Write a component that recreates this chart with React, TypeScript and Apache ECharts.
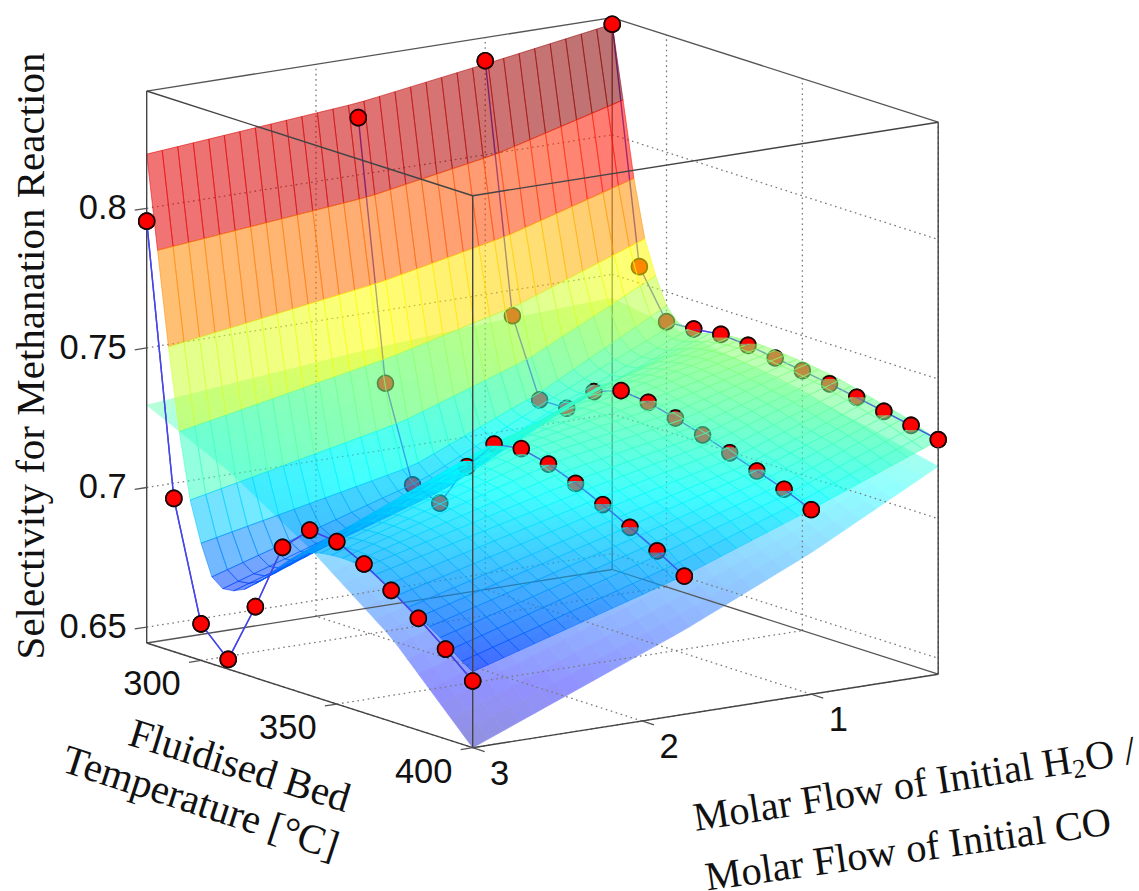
import React, { useEffect, useRef } from "react";
import * as echarts from "echarts";

// ---- axis ticks ----
const tempTicks = [300, 350, 400];
const ratioTicks = [3, 2, 1];
const selectivityTicks = [0.65, 0.7, 0.75, 0.8];
const selectivityLabels = ["0.65", "0.7", "0.75", "0.8"];
const tempMin = 280;
const tempMax = 400;
const ratioMin = 0.25;
const ratioMax = 3;
const zMin = 0.6443;
const zMax = 0.842;

// ---- measured points: one curve per molar-flow ratio ----
const pointTemps = [280, 290, 300, 310, 320, 330, 340, 350, 360, 370, 380, 390, 400];
const curveRatios = [3, 1.75, 1, 0.25];
const curveR3 = [0.7954, 0.6992, 0.6574, 0.6478, 0.6698, 0.6942, 0.7035, 0.7025, 0.6976, 0.6913, 0.6844, 0.6765, 0.6682];
const curveR175 = [0.8205, 0.7285, 0.6952, 0.6918, 0.708, 0.7192, 0.7207, 0.7183, 0.7145, 0.71, 0.705, 0.6997, 0.6938];
const curveR1 = [0.8337, 0.7455, 0.7185, 0.7186, 0.7277, 0.7312, 0.7301, 0.7276, 0.7247, 0.7214, 0.718, 0.7146, 0.7104];
const curveR025 = [0.8396, 0.7559, 0.7393, 0.7398, 0.741, 0.7402, 0.7388, 0.7374, 0.7358, 0.7341, 0.7322, 0.7303, 0.7283];
// share of each marker that stands clear of the fitted surface
const clearR3 = [1, 1, 1, 1, 1, 1, 1, 1, 1, 1, 1, 1, 1];
const clearR175 = [1, 0, 0, 0, 0.15, 0.6, 0.85, 0.55, 0.35, 0.45, 0.5, 0.6, 0.85];
const clearR1 = [1, 0, 0, 0, 0.05, 1, 0.4, 0.1, 0, 0.15, 0.4, 0.6, 0.9];
const clearR025 = [1, 0, 0, 0.5, 0.7, 0.4, 0, 0, 0.2, 0.5, 0.75, 0.8, 0.95];

// ---- fitted surface: rows every 4 degC, read along four ratios ----
const surfaceTemps = [280, 284, 288, 292, 296, 300, 304, 308, 312, 316, 320, 324, 328, 332, 336, 340, 344, 348, 352, 356, 360, 364, 368, 372, 376, 380, 384, 388, 392, 396, 400];
const surfaceRatios = [3, 1.75, 1, 0.25];
const surfaceR3 = [0.8194, 0.7862, 0.7529, 0.7238, 0.7005, 0.6863, 0.6755, 0.6725, 0.673, 0.6748, 0.678, 0.6815, 0.686, 0.69, 0.693, 0.6955, 0.6965, 0.697, 0.6972, 0.697, 0.6964, 0.695, 0.6925, 0.69, 0.687, 0.6848, 0.6826, 0.68, 0.677, 0.674, 0.6715];
const surfaceR175 = [0.8258, 0.7935, 0.764, 0.7385, 0.7165, 0.702, 0.6985, 0.697, 0.6975, 0.703, 0.7095, 0.714, 0.718, 0.7205, 0.7215, 0.722, 0.7218, 0.7208, 0.7195, 0.7175, 0.7155, 0.7135, 0.7115, 0.7095, 0.7075, 0.7055, 0.7035, 0.7015, 0.6995, 0.6965, 0.694];
const surfaceR1 = [0.8325, 0.8015, 0.7735, 0.75, 0.732, 0.721, 0.72, 0.7195, 0.7205, 0.7245, 0.7285, 0.73, 0.7315, 0.732, 0.7318, 0.7308, 0.7298, 0.7285, 0.7275, 0.726, 0.7248, 0.7235, 0.722, 0.7205, 0.719, 0.7182, 0.7168, 0.7152, 0.7138, 0.7122, 0.7105];
const surfaceR025 = [0.8396, 0.8137, 0.7869, 0.7665, 0.7545, 0.745, 0.7405, 0.739, 0.739, 0.74, 0.7408, 0.7415, 0.7418, 0.742, 0.7418, 0.7415, 0.7412, 0.7408, 0.7405, 0.7398, 0.7392, 0.7385, 0.7375, 0.7365, 0.7355, 0.7345, 0.7335, 0.7325, 0.731, 0.7295, 0.728];

// ---- second, smooth surface ----
const sheetTemps = [280, 310, 340, 370, 400];
const sheetR3 = [0.7295, 0.7155, 0.697, 0.6745, 0.6443];
const sheetR175 = [0.7365, 0.7285, 0.7165, 0.6975, 0.6745];
const sheetR1 = [0.7395, 0.7335, 0.7245, 0.711, 0.695];
const sheetR025 = [0.7415, 0.7365, 0.7315, 0.7255, 0.7187];

const surfaceColumns = [surfaceR3, surfaceR175, surfaceR1, surfaceR025];
const sheetColumns = [sheetR3, sheetR175, sheetR1, sheetR025];
const curves = [curveR3, curveR175, curveR1, curveR025];
const clears = [clearR3, clearR175, clearR1, clearR025];

// orthographic view of the box, in the hidden screen-like axes
function project(T: number, R: number, z: number): number[] {
  const u = (T - tempMin) / (tempMax - tempMin);
  const v = (ratioMax - R) / (ratioMax - ratioMin);
  return [146.7 + 326 * u + 465.5 * v, 643 + 104.7 * u - 73.5 * v - 2792 * (z - zMin)];
}

const clamp01 = (x: number) => Math.max(0, Math.min(1, x));
function jet(z: number): number[] {
  const t = clamp01((z - 0.635) / (0.84 - 0.635));
  return [
    Math.round(255 * clamp01(1.5 - Math.abs(4 * t - 3))),
    Math.round(255 * clamp01(1.5 - Math.abs(4 * t - 2))),
    Math.round(255 * clamp01(1.5 - Math.abs(4 * t - 1))),
  ];
}
function locate(knots: number[], x: number): [number, number] {
  const descending = knots[0] > knots[knots.length - 1];
  for (let i = 0; i < knots.length - 1; i++) {
    const a = knots[i];
    const b = knots[i + 1];
    if (descending ? x >= b : x <= b) return [i, (x - a) / (b - a)];
  }
  return [knots.length - 2, 1];
}
function tableValue(rows: number[], ratios: number[], cols: number[][], T: number, R: number): number {
  const [ri, rf] = locate(rows, T);
  const [ci, cf] = locate(ratios, R);
  const a = cols[ci][ri] * (1 - rf) + cols[ci][ri + 1] * rf;
  const b = cols[ci + 1][ri] * (1 - rf) + cols[ci + 1][ri + 1] * rf;
  return a * (1 - cf) + b * cf;
}
const surfaceZ = (T: number, R: number) => tableValue(surfaceTemps, surfaceRatios, surfaceColumns, T, R);
const sheetZ = (T: number, R: number) => tableValue(sheetTemps, surfaceRatios, sheetColumns, T, R);

const CELLS = 30;
const ratioAt = (j: number) => ratioMax - ((ratioMax - ratioMin) * j) / CELLS;
const tempAt = (i: number) => tempMin + ((tempMax - tempMin) * i) / CELLS;

// back to front: far temperatures and small ratios first
const cellList: number[][] = [];
for (let i = 0; i < CELLS; i++) for (let j = CELLS - 1; j >= 0; j--) cellList.push([i, j]);

type Seg = { a: number[]; b: number[] };
const seg = (a: number[], b: number[]): Seg => ({ a, b });

const backEdges: Seg[] = [
  seg([tempMin, ratioMin, zMin], [tempMin, ratioMax, zMin]),
  seg([tempMin, ratioMin, zMin], [tempMax, ratioMin, zMin]),
  seg([tempMin, ratioMin, zMin], [tempMin, ratioMin, zMax]),
  seg([tempMin, ratioMin, zMax], [tempMin, ratioMax, zMax]),
  seg([tempMin, ratioMin, zMax], [tempMax, ratioMin, zMax]),
];
const frontEdges: Seg[] = [
  seg([tempMin, ratioMax, zMin], [tempMin, ratioMax, zMax]),
  seg([tempMax, ratioMin, zMin], [tempMax, ratioMin, zMax]),
  seg([tempMax, ratioMax, zMin], [tempMax, ratioMax, zMax]),
  seg([tempMin, ratioMax, zMin], [tempMax, ratioMax, zMin]),
  seg([tempMax, ratioMax, zMin], [tempMax, ratioMin, zMin]),
  seg([tempMin, ratioMax, zMax], [tempMax, ratioMax, zMax]),
  seg([tempMax, ratioMax, zMax], [tempMax, ratioMin, zMax]),
];
const gridSegs: Seg[] = [];
tempTicks.forEach((T) => {
  gridSegs.push(seg([T, ratioMax, zMin], [T, ratioMin, zMin]));
  gridSegs.push(seg([T, ratioMin, zMin], [T, ratioMin, zMax]));
});
ratioTicks.forEach((R) => {
  gridSegs.push(seg([tempMax, R, zMin], [tempMin, R, zMin]));
  if (R !== ratioMax) gridSegs.push(seg([tempMin, R, zMin], [tempMin, R, zMax]));
});
selectivityTicks.forEach((z) => {
  gridSegs.push(seg([tempMin, ratioMax, z], [tempMin, ratioMin, z]));
  gridSegs.push(seg([tempMin, ratioMin, z], [tempMax, ratioMin, z]));
});

type Mark = { curve: number; idx: number };
const markList: Mark[] = [];
curves.forEach((c, k) => c.forEach((_, idx) => markList.push({ curve: k, idx })));
const linkList = markList.filter((m) => m.idx < pointTemps.length - 1);

const markerCenter = (m: Mark) => project(pointTemps[m.idx], curveRatios[m.curve], curves[m.curve][m.idx]);
const R_MARK = 7.9;
const MARK_EDGE = 1.7;
const SANS = "Liberation Sans";
const SERIF = "Liberation Serif";

function buildOption() {
  const lineSeries = (z: number, list: Seg[], style: any) => ({
    type: "custom",
    coordinateSystem: "cartesian2d",
    silent: true,
    z,
    data: list.map((_, i) => [i, 0]),
    renderItem: (p: any, api: any) => {
      const s = list[p.dataIndex];
      const a = api.coord(project(s.a[0], s.a[1], s.a[2]));
      const b = api.coord(project(s.b[0], s.b[1], s.b[2]));
      return { type: "line", shape: { x1: a[0], y1: a[1], x2: b[0], y2: b[1] }, style };
    },
  });

  const tickSegs: Seg[] = [];
  const dT = -(12 / 326) * (tempMax - tempMin);
  const dR = (12 / 465.5) * (ratioMax - ratioMin);
  selectivityTicks.forEach((z) => tickSegs.push(seg([tempMin, ratioMax, z], [tempMin, ratioMax + dR, z])));
  tempTicks.forEach((T) => tickSegs.push(seg([T, ratioMax, zMin], [T, ratioMax + dR, zMin])));
  ratioTicks.forEach((R) => tickSegs.push(seg([tempMax, R, zMin], [tempMax - dT, R, zMin])));

  const labelSeries = (z: number, items: { text: string; at: number[]; dx: number; dy: number; align: string }[]) => ({
    type: "custom",
    coordinateSystem: "cartesian2d",
    silent: true,
    z,
    data: items.map((_, i) => [i, 0]),
    renderItem: (p: any, api: any) => {
      const it = items[p.dataIndex];
      const c = api.coord(project(it.at[0], it.at[1], it.at[2]));
      return {
        type: "text",
        style: {
          x: c[0] + it.dx,
          y: c[1] + it.dy,
          text: it.text,
          fill: "#111",
          font: `34.5px "${SANS}"`,
          textAlign: it.align,
          textVerticalAlign: "middle",
        },
      };
    },
  });

  const labels = [
    ...selectivityTicks.map((z, i) => ({ text: selectivityLabels[i], at: [tempMin, ratioMax, z], dx: -20, dy: -1, align: "right" })),
    ...tempTicks.map((T) => ({ text: String(T), at: [T, ratioMax, zMin], dx: -49, dy: 23, align: "center" })),
    ...ratioTicks.map((R) => ({ text: String(R), at: [tempMax, R, zMin], dx: 27, dy: 25, align: "center" })),
  ];

  const titleFont = `40.5px "${SERIF}"`;
  const mid = { fill: "#111", textVerticalAlign: "middle" };

  return {
    animation: false,
    backgroundColor: "#fff",
    grid: { left: 0, right: 0, top: 0, bottom: 0 },
    xAxis: { type: "value", min: 0, max: 1139, show: false },
    yAxis: { type: "value", min: 0, max: 891, inverse: true, show: false },
    graphic: [
      {
        type: "text",
        x: 30,
        y: 356,
        rotation: Math.PI / 2,
        z: 100,
        style: { text: "Selectivity for Methanation Reaction", font: `41px "${SERIF}"`, fill: "#111", textAlign: "center", textVerticalAlign: "middle" },
      },
      {
        type: "text",
        x: 240,
        y: 765,
        rotation: -0.3,
        z: 100,
        style: { text: "Fluidised Bed", font: `41px "${SERIF}"`, fill: "#111", textAlign: "center", textVerticalAlign: "middle" },
      },
      {
        type: "text",
        x: 201,
        y: 802,
        rotation: -0.315,
        z: 100,
        style: { text: "Temperature [°C]", font: `41px "${SERIF}"`, fill: "#111", textAlign: "center", textVerticalAlign: "middle" },
      },
      {
        type: "group",
        x: 913,
        y: 784,
        rotation: 0.153,
        z: 100,
        children: [
          { type: "text", x: 160, y: 0, style: { ...mid, text: "Molar Flow of Initial H", font: titleFont, textAlign: "right" } },
          { type: "text", x: 160, y: 10, style: { ...mid, text: "2", font: `27px "${SERIF}"`, textAlign: "left" } },
          { type: "text", x: 174, y: 0, style: { ...mid, text: "O /", font: titleFont, textAlign: "left" } },
        ],
      },
      {
        type: "text",
        x: 908,
        y: 849,
        rotation: 0.138,
        z: 100,
        style: { text: "Molar Flow of Initial CO", font: `40.5px "${SERIF}"`, lineHeight: 26, fill: "#111", textAlign: "center", textVerticalAlign: "middle" },
      },
    ],
    series: [
      {
        // smooth sheet, painted with its see-through colours already mixed on white
        type: "custom",
        coordinateSystem: "cartesian2d",
        silent: true,
        z: 1,
        data: cellList,
        renderItem: (p: any, api: any) => {
          const [i, j] = cellList[p.dataIndex];
          const corner = (a: number, b: number) => api.coord(project(tempAt(a), ratioAt(b), sheetZ(tempAt(a), ratioAt(b))));
          const c = jet(sheetZ(tempAt(i + 0.5), ratioAt(j + 0.5)));
          const a = 0.43;
          const col = `rgb(${Math.round(255 - a * (255 - c[0]))},${Math.round(255 - a * (255 - c[1]))},${Math.round(255 - a * (255 - c[2]))})`;
          return {
            type: "polygon",
            shape: { points: [corner(i, j), corner(i + 1, j), corner(i + 1, j + 1), corner(i, j + 1)] },
            style: { fill: col, stroke: col, lineWidth: 0.7 },
          };
        },
      },
      lineSeries(2, gridSegs, { stroke: "#7a7a7a", lineWidth: 1.3, lineDash: [1.6, 3.6] }),
      lineSeries(2, backEdges, { stroke: "#555", lineWidth: 1.3 }),
      {
        // links and markers that the surface covers
        type: "custom",
        coordinateSystem: "cartesian2d",
        silent: true,
        z: 3,
        data: linkList.map((_, i) => [i, 0]),
        renderItem: (p: any, api: any) => {
          const m = linkList[p.dataIndex];
          const a = api.coord(markerCenter(m));
          const b = api.coord(markerCenter({ curve: m.curve, idx: m.idx + 1 }));
          return { type: "line", shape: { x1: a[0], y1: a[1], x2: b[0], y2: b[1] }, style: { stroke: "#4646e6", lineWidth: 1.4 } };
        },
      },
      {
        type: "custom",
        coordinateSystem: "cartesian2d",
        silent: true,
        z: 3,
        data: markList.map((_, i) => [i, 0]),
        renderItem: (p: any, api: any) => {
          const m = markList[p.dataIndex];
          const c = api.coord(markerCenter(m));
          return { type: "circle", shape: { cx: c[0], cy: c[1], r: R_MARK }, style: { fill: "#ff0000", stroke: "#1a0505", lineWidth: MARK_EDGE } };
        },
      },
      {
        // the fitted surface
        type: "custom",
        coordinateSystem: "cartesian2d",
        silent: true,
        z: 4,
        data: cellList,
        renderItem: (p: any, api: any) => {
          const [i, j] = cellList[p.dataIndex];
          const corner = (a: number, b: number) => api.coord(project(tempAt(a), ratioAt(b), surfaceZ(tempAt(a), ratioAt(b))));
          const c = jet(surfaceZ(tempAt(i), ratioAt(j)));
          return {
            type: "polygon",
            shape: { points: [corner(i, j), corner(i + 1, j), corner(i + 1, j + 1), corner(i, j + 1)] },
            style: { fill: `rgba(${c[0]},${c[1]},${c[2]},0.55)`, stroke: `rgba(${c[0]},${c[1]},${c[2]},0.6)`, lineWidth: 0.9 },
          };
        },
      },
      lineSeries(5, frontEdges, { stroke: "#444", lineWidth: 1.4 }),
      lineSeries(5, tickSegs, { stroke: "#555", lineWidth: 1.3 }),
      {
        // parts of links that stand clear of the surface
        type: "custom",
        coordinateSystem: "cartesian2d",
        silent: true,
        z: 6,
        data: linkList.map((_, i) => [i, 0]),
        renderItem: (p: any, api: any) => {
          const m = linkList[p.dataIndex];
          const a = api.coord(markerCenter(m));
          const b = api.coord(markerCenter({ curve: m.curve, idx: m.idx + 1 }));
          const share = Math.min(clears[m.curve][m.idx], clears[m.curve][m.idx + 1]);
          return { type: "line", shape: { x1: a[0], y1: a[1], x2: b[0], y2: b[1] }, style: { stroke: "#4646e6", lineWidth: 1.4, opacity: share } };
        },
      },
      {
        // the part of each marker above the surface
        type: "custom",
        coordinateSystem: "cartesian2d",
        silent: true,
        z: 7,
        data: markList.map((_, i) => [i, 0]),
        renderItem: (p: any, api: any) => {
          const m = markList[p.dataIndex];
          const f = clears[m.curve][m.idx];
          const c = api.coord(markerCenter(m));
          if (f <= 0) return { type: "group", children: [] };
          if (f >= 1) {
            return { type: "circle", shape: { cx: c[0], cy: c[1], r: R_MARK }, style: { fill: "#ff0000", stroke: "#1a0505", lineWidth: MARK_EDGE } };
          }
          const phi = Math.acos(1 - 2 * f);
          const pts: number[][] = [];
          for (let k = 0; k <= 18; k++) {
            const ang = -phi + (2 * phi * k) / 18;
            pts.push([c[0] + R_MARK * Math.sin(ang), c[1] - R_MARK * Math.cos(ang)]);
          }
          return {
            type: "group",
            children: [
              { type: "polygon", shape: { points: pts }, style: { fill: "#ff0000" } },
              { type: "polyline", shape: { points: pts }, style: { stroke: "#1a0505", lineWidth: MARK_EDGE, fill: "none" } },
            ],
          };
        },
      },
      labelSeries(8, labels),
    ],
  };
}

export default function App() {
  const ref = useRef<HTMLDivElement>(null);
  useEffect(() => {
    document.body.style.margin = "0";
    const chart = echarts.init(ref.current!, undefined, { renderer: "svg" });
    chart.setOption(buildOption() as any);
    return () => chart.dispose();
  }, []);
  return <div ref={ref} style={{ position: "absolute", left: 0, top: 0, width: 1139, height: 891 }} />;
}
